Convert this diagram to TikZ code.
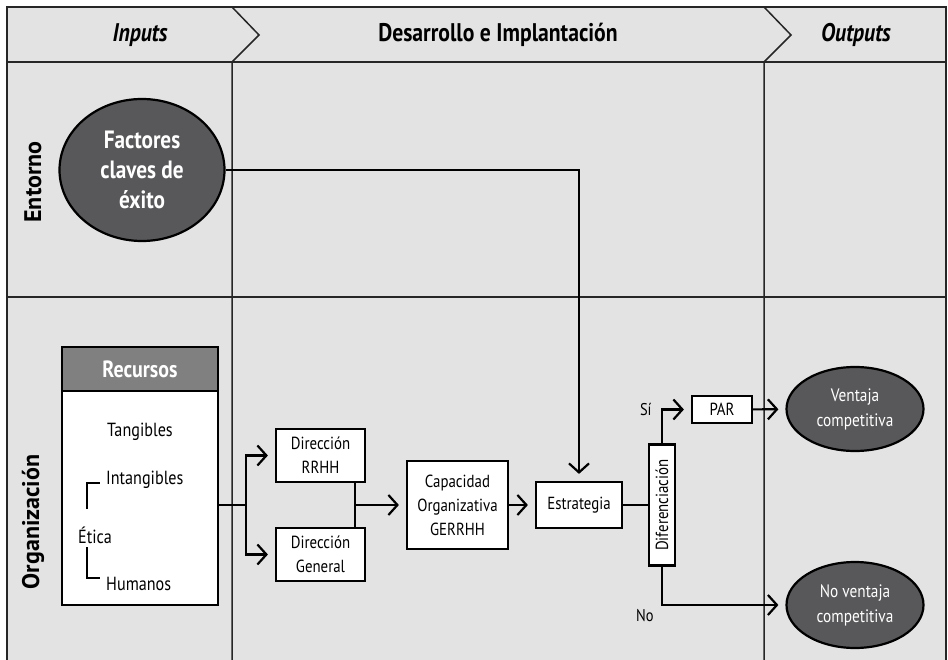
\documentclass[tikz,border=0pt]{standalone}
\usepackage{fontspec}
\setmainfont{PT Sans}[FakeStretch=0.85]
\newfontfamily\lanefont{PT Sans}
\usetikzlibrary{arrows.meta,shapes,positioning,calc}
\definecolor{lanegray}{HTML}{E2E3E2}
\definecolor{darkfill}{HTML}{58585A}
\definecolor{headfill}{HTML}{808080}
\definecolor{lineclr}{HTML}{262626}

\begin{document}
\begin{tikzpicture}[x=1pt,y=-1pt,
    boxstyle/.style={draw,fill=white,line width=2.2pt,inner sep=0,align=center,
        font=\fontsize{17.5}{24}\selectfont},
    darkstyle/.style={ellipse,draw,fill=darkfill,line width=2.2pt,inner sep=0,
        align=center,text=white},
    itemstyle/.style={inner sep=0,font=\fontsize{19}{22}\selectfont},
    headstyle/.style={inner sep=0,font=\fontsize{25.5}{28}\selectfont\bfseries},
    lanelabel/.style={inner sep=0,rotate=90,font=\lanefont\fontsize{24}{28}\selectfont\bfseries},
    flow/.style={line width=2.2pt},
    arr/.style={flow,shorten >=7pt,-{Straight Barb[length=9pt,width=20pt]}},
    lane/.style={lineclr,line width=1.5pt},
    bracket/.style={line width=1.8pt}]
    \useasboundingbox (0,0) rectangle (948,660);
    \fill[lanegray] (7,7) rectangle (946,660);
    \draw[lane] (7,660) -- (7,7) -- (946,7) -- (946,660);
    \draw[lane] (7,62) -- (946,62);
    \draw[lane] (7,297) -- (946,297);
    \foreach \x in {232,764} {
        \draw[lane] (\x,7) -- (\x+27,35) -- (\x,62) -- (\x,660);
    }

    \node[headstyle] (inputs) at (140,35) {\itshape Inputs};
    \node[headstyle] (desarrollo) at (498,35) {Desarrollo e Implantación};
    \node[headstyle] (outputs) at (856,35) {\itshape Outputs};
    \node[lanelabel] (entorno) at (33,182) {Entorno};
    \node[lanelabel] (organizacion) at (33,522) {Organización};

    \node[darkstyle,minimum width=165,minimum height=142,
        font=\fontsize{25}{30}\selectfont\bfseries] (factores) at (142,170)
        {Factores\\claves de\\éxito};

    \node[boxstyle,minimum width=156,minimum height=258] (recursos) at (140,476) {};
    \node[boxstyle,fill=headfill,text=white,minimum width=156,minimum height=44,
        font=\fontsize{23.5}{26}\selectfont\bfseries] (recursoshead) at (140,369) {Recursos};
    \node[itemstyle] (tangibles) at (140,432) {Tangibles};
    \node[itemstyle,anchor=west] (intangibles) at (106,480) {Intangibles};
    \node[itemstyle,anchor=west] (etica) at (78,535) {Ética};
    \node[itemstyle,anchor=west] (humanos) at (106,584) {Humanos};
    \draw[bracket] (87,509) |- (100,483);
    \draw[bracket] (87,547) |- (100,578);

    \node[boxstyle,minimum width=89,minimum height=53] (rrhh) at (320.5,455.5) {Dirección\\RRHH};
    \node[boxstyle,minimum width=89,minimum height=53] (general) at (320.5,554.5) {Dirección\\General};
    \node[boxstyle,minimum width=101,minimum height=88] (capacidad) at (457.5,505) {Capacidad\\Organizativa\\GERRHH};
    \node[boxstyle,minimum width=86,minimum height=46] (estrategia) at (579,505) {Estrategia};
    \node[boxstyle,minimum width=26,minimum height=121] (dif) at (662,505) {\rotatebox{90}{Diferenciación}};
    \node[boxstyle,minimum width=60,minimum height=27] (par) at (722,409.5) {PAR};
    \node[darkstyle,minimum width=137,minimum height=84,
        font=\fontsize{18}{25}\selectfont] (ventaja) at (855,409) {Ventaja\\competitiva};
    \node[darkstyle,minimum width=137,minimum height=86,
        font=\fontsize{18}{25}\selectfont] (noventaja) at (855,605) {No ventaja\\competitiva};

    \coordinate (split) at (246,505);
    \coordinate (merge) at (355,505);
    \draw[flow] (recursos.east |- split) -- (split);
    \draw[arr] (split) |- (rrhh.west);
    \draw[arr] (split) |- (general.west);
    \draw[flow] (rrhh.south -| merge) -- (general.north -| merge);
    \draw[arr] (merge) -- (capacidad.west);
    \draw[arr] (capacidad) -- (estrategia);
    \draw[arr] (factores.east) -| (estrategia.north);
    \draw[flow] (estrategia) -- (dif);
    \draw[arr] (dif.north) |- node[pos=0.5,anchor=east,xshift=-6pt,
        font=\fontsize{17}{19}\selectfont] {Sí} (par.west);
    \draw[arr] (par) -- (ventaja);
    \draw[arr] (dif.south) |- node[pos=0.5,anchor=north east,xshift=-4pt,
        font=\fontsize{17}{19}\selectfont] {No} (noventaja.west);
\end{tikzpicture}
\end{document}
